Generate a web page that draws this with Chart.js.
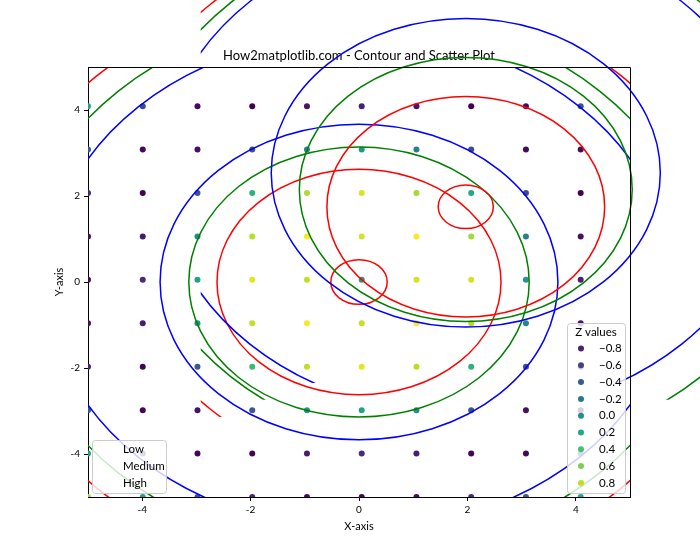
<!DOCTYPE html>
<html lang="en">
<head>
<meta charset="UTF-8">
<title>Contour and Scatter Plot</title>
<script src="https://cdn.jsdelivr.net/npm/chart.js"></script>
<style>
    body { margin: 0; background: #fff; }
    #wrap { width: 700px; height: 560px; }
</style>
</head>
<body>
<div id="wrap"><canvas id="chart" width="700" height="560"></canvas></div>
<script>
// sample grid (every 10th point of the 100x100 mesh)
const gridX = [-5, -3.99, -2.98, -1.97, -0.96, 0.05, 1.06, 2.07, 3.08, 4.09];
const gridY = [-5, -3.99, -2.98, -1.97, -0.96, 0.05, 1.06, 2.07, 3.08, 4.09];
// Z at each sample, one row per y value
const zValues = [
    [0.71, 0.11, -0.45, -0.79, -0.93, -0.96, -0.92, -0.77, -0.40, 0.18],
    [0.11, -0.60, -0.96, -0.97, -0.82, -0.75, -0.83, -0.98, -0.95, -0.54],
    [-0.45, -0.96, -0.88, -0.42, 0.01, 0.16, -0.02, -0.47, -0.91, -0.94],
    [-0.79, -0.97, -0.42, 0.35, 0.81, 0.92, 0.79, 0.28, -0.49, -0.99],
    [-0.93, -0.82, 0.01, 0.81, 0.98, 0.82, 0.99, 0.76, -0.09, -0.87],
    [-0.96, -0.75, 0.16, 0.92, 0.82, 0.07, 0.87, 0.88, 0.06, -0.81],
    [-0.92, -0.83, -0.02, 0.79, 0.99, 0.87, 1.00, 0.73, -0.12, -0.88],
    [-0.77, -0.98, -0.47, 0.28, 0.76, 0.88, 0.73, 0.21, -0.54, -0.99],
    [-0.40, -0.95, -0.91, -0.49, -0.09, 0.06, -0.12, -0.54, -0.94, -0.92],
    [0.18, -0.54, -0.94, -0.99, -0.87, -0.81, -0.88, -0.99, -0.92, -0.48]
];
const zLegendValues = [-0.8, -0.6, -0.4, -0.2, 0.0, 0.2, 0.4, 0.6, 0.8];

// contour levels and the radii of their rings (data units, centred on 0,0)
const contourLevels = [-0.5, 0, 0.5];
const contourLabels = ['Low', 'Medium', 'High'];
const contourRadii = [[3.67, 5.76], [3.14, 6.28], [0.52, 2.62, 6.81]];
const domain = [-5, 5];

const xTicks = [-4, -2, 0, 2, 4];
const yTicks = [-4, -2, 0, 2, 4];

const contourColors = ['blue', 'green', 'red'];
const FONT = 'Lato, "Open Sans", sans-serif';

const viridisStops = ['#440154', '#482475', '#414487', '#355f8d', '#2a788e', '#21918c',
    '#22a884', '#44bf70', '#7ad151', '#bddf26', '#fde725'];
function hexRgb(h) {
    return [1, 3, 5].map(i => parseInt(h.substr(i, 2), 16));
}
function viridis(t) {
    t = Math.min(1, Math.max(0, t));
    const p = t * 10, i = Math.min(9, Math.floor(p)), f = p - i;
    const a = hexRgb(viridisStops[i]), b = hexRgb(viridisStops[i + 1]);
    const c = a.map((v, k) => Math.round(v + (b[k] - v) * f));
    return `rgb(${c[0]},${c[1]},${c[2]})`;
}
const zFlat = zValues.flat();
const zMin = Math.min(...zFlat), zMax = Math.max(...zFlat);
const zColor = z => viridis((z - zMin) / (zMax - zMin));

const points = [], pointColors = [];
gridY.forEach((yv, j) => gridX.forEach((xv, i) => {
    points.push({ x: xv, y: yv });
    pointColors.push(zColor(zValues[j][i]));
}));

// contour rings; the second copy is the stray offset copy matplotlib drew
const contourPlugin = {
    id: 'contours',
    afterDatasetsDraw(chart, args, opts) {
        const { ctx, scales: { x, y } } = chart;
        opts.copies.forEach(copy => {
            contourLevels.forEach((lvl, li) => {
                const cx = copy.cx, cy = copy.cy[li], k = copy.k;
                const left = x.getPixelForValue(cx + domain[0] * k);
                const right = x.getPixelForValue(cx + domain[1] * k);
                const top = y.getPixelForValue(cy + domain[1] * k);
                const bottom = y.getPixelForValue(cy + domain[0] * k);
                ctx.save();
                ctx.beginPath();
                ctx.rect(left, top, right - left, bottom - top);
                ctx.clip();
                ctx.strokeStyle = contourColors[li];
                ctx.lineWidth = 1.5;
                const px = x.getPixelForValue(cx), py = y.getPixelForValue(cy);
                contourRadii[li].forEach(r => {
                    const rx = x.getPixelForValue(cx + r * k) - px;
                    const ry = py - y.getPixelForValue(cy + r * k);
                    ctx.beginPath();
                    ctx.ellipse(px, py, rx, ry, 0, 0, Math.PI * 2);
                    ctx.stroke();
                });
                ctx.restore();
            });
        });
    },
    afterDraw(chart) {
        const { ctx, chartArea: a } = chart;
        // top and right spines
        ctx.save();
        ctx.strokeStyle = '#000';
        ctx.lineWidth = 1;
        ctx.beginPath();
        ctx.moveTo(a.left, a.top + 0.5);
        ctx.lineTo(a.right + 0.5, a.top + 0.5);
        ctx.lineTo(a.right + 0.5, a.bottom);
        ctx.stroke();

        const box = (bx, by, bw, bh) => {
            ctx.beginPath();
            ctx.roundRect(bx + 0.5, by + 0.5, bw, bh, 3);
            ctx.fillStyle = 'rgba(255,255,255,0.8)';
            ctx.fill();
            ctx.strokeStyle = '#cccccc';
            ctx.stroke();
        };
        ctx.font = '11.5px ' + FONT;
        ctx.textBaseline = 'middle';

        // Z values legend, lower right
        const zx = a.right - 63, zy = a.bottom - 174;
        box(zx, zy, 58, 170);
        ctx.fillStyle = '#000';
        ctx.textAlign = 'center';
        ctx.fillText('Z values', zx + 29, zy + 9);
        ctx.textAlign = 'left';
        zLegendValues.forEach((v, i) => {
            const ey = zy + 25.5 + i * 16.8;
            ctx.beginPath();
            ctx.arc(zx + 14, ey, 3, 0, Math.PI * 2);
            ctx.fillStyle = zColor(v);
            ctx.fill();
            ctx.fillStyle = '#000';
            ctx.fillText(v.toFixed(1).replace('-', '\u2212'), zx + 32, ey);
        });

        // contour legend, lower left (its handles were never drawn)
        const lx = a.left + 4, ly = a.bottom - 57;
        box(lx, ly, 74, 53);
        ctx.fillStyle = '#000';
        contourLabels.forEach((t, i) => ctx.fillText(t, lx + 31, ly + 9 + i * 17));
        ctx.restore();
    }
};

const axisFont = { family: FONT, size: 10 };
new Chart(document.getElementById('chart'), {
    type: 'scatter',
    data: {
        datasets: [{
            data: points,
            backgroundColor: pointColors,
            borderWidth: 0,
            pointRadius: 3,
            clip: 0
        }]
    },
    options: {
        responsive: false,
        animation: false,
        devicePixelRatio: 1,
        layout: { padding: { left: 0, right: 70, top: 0, bottom: 0 } },
        plugins: {
            legend: { display: false },
            tooltip: { enabled: false },
            title: {
                display: true,
                fullSize: false,
                text: 'How2matplotlib.com - Contour and Scatter Plot',
                color: '#000',
                font: { family: FONT, size: 13, weight: 'normal', lineHeight: 1.2 },
                padding: { top: 48, bottom: 3.4 }
            },
            contours: {
                copies: [
                    { cx: 0, cy: [0, 0, 0], k: 1 },
                    { cx: 1.97, cy: [2.54, 2.15, 1.75], k: 0.978 }
                ]
            }
        },
        scales: {
            x: {
                type: 'linear', min: -5, max: 5,
                afterBuildTicks: s => { s.ticks = xTicks.map(v => ({ value: v })); },
                afterFit: s => { s.height = 63; },
                grid: { drawOnChartArea: false, drawTicks: true, tickLength: 4, tickColor: '#000' },
                border: { display: true, color: '#000', width: 1 },
                ticks: { color: '#000', font: axisFont, padding: 3, maxRotation: 0, callback: v => String(v) },
                title: { display: true, text: 'X-axis', color: '#000', font: { family: FONT, size: 11 }, padding: { top: 0, bottom: 27 } }
            },
            y: {
                type: 'linear', min: -5, max: 5,
                afterBuildTicks: s => { s.ticks = yTicks.map(v => ({ value: v })); },
                afterFit: s => { s.width = 88; },
                grid: { drawOnChartArea: false, drawTicks: true, tickLength: 4, tickColor: '#000' },
                border: { display: true, color: '#000', width: 1 },
                ticks: { color: '#000', font: axisFont, padding: 4, callback: v => String(v) },
                title: { display: true, text: 'Y-axis', color: '#000', font: { family: FONT, size: 11 }, padding: { top: 53, bottom: 0 } }
            }
        }
    },
    plugins: [contourPlugin]
});
</script>
</body>
</html>
